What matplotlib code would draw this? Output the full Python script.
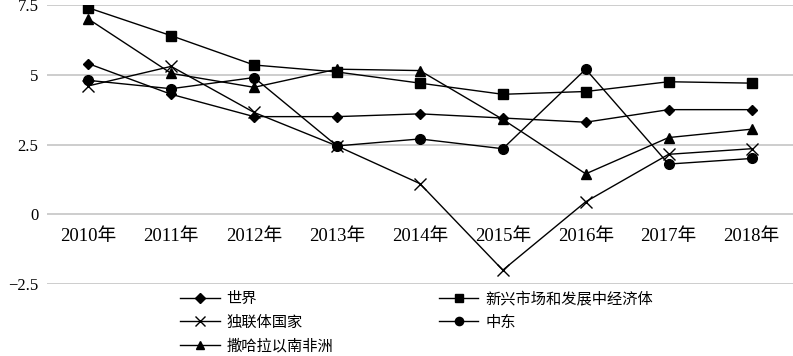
import matplotlib
matplotlib.use("Agg")
import matplotlib.pyplot as plt

plt.rcParams['font.family'] = ['Liberation Serif', 'Noto Sans CJK SC']
plt.rcParams['axes.unicode_minus'] = True

years = ["2010年", "2011年", "2012年", "2013年", "2014年", "2015年", "2016年", "2017年", "2018年"]

world = [5.4, 4.3, 3.5, 3.5, 3.6, 3.45, 3.3, 3.75, 3.75]
emerging = [7.4, 6.4, 5.35, 5.1, 4.7, 4.3, 4.4, 4.75, 4.7]
cis = [4.6, 5.3, 3.65, 2.45, 1.1, -2.0, 0.45, 2.15, 2.35]
middle_east = [4.8, 4.5, 4.9, 2.45, 2.7, 2.35, 5.2, 1.8, 2.0]
ssa = [7.0, 5.05, 4.55, 5.2, 5.15, 3.4, 1.45, 2.75, 3.05]

yticks = [-2.5, 0, 2.5, 5, 7.5]
ytick_labels = ["\u22122.5", "0", "2.5", "5", "7.5"]

fig = plt.figure(figsize=(7.93, 3.56), dpi=100)
ax = fig.add_axes([0.059, 0.202, 0.941, 0.784])

x = list(range(len(years)))
style = dict(color='black', linewidth=1.0)
h_world, = ax.plot(x, world, marker='D', markersize=5.5, label='世界', **style)
h_emer, = ax.plot(x, emerging, marker='s', markersize=7, label='新兴市场和发展中经济体', **style)
h_cis, = ax.plot(x, cis, marker='x', markersize=8, markeredgewidth=1.0, label='独联体国家', **style)
h_me, = ax.plot(x, middle_east, marker='o', markersize=7, label='中东', **style)
h_ssa, = ax.plot(x, ssa, marker='^', markersize=7, label='撒哈拉以南非洲', **style)

ax.set_xlim(-0.5, len(years) - 0.5)
ax.set_ylim(-2.5, 7.5)
ax.set_yticks(yticks)
ax.set_yticklabels(ytick_labels)
ax.set_xticks(x)
ax.set_xticklabels(years)
ax.grid(axis='y', color='#c0c0c0', linewidth=1.1)
ax.set_axisbelow(True)
for s in ['top', 'right', 'left']:
    ax.spines[s].set_visible(False)
ax.spines['bottom'].set_position(('data', 0))
ax.spines['bottom'].set_color('none')
ax.tick_params(axis='x', length=0, pad=10, labelsize=13.5)
ax.tick_params(axis='y', length=0, pad=6, labelsize=12)
for lab in ax.get_xticklabels() + ax.get_yticklabels():
    lab.set_clip_on(False)

# row-wise order: 世界 | 新兴, 独联体 | 中东, 撒哈拉
handles = [h_world, h_cis, h_ssa, h_emer, h_me]
ax.legend(handles, [h.get_label() for h in handles], ncol=2, frameon=False,
          loc='upper left', bbox_to_anchor=(180 / 793, 1 - 291 / 356),
          bbox_transform=fig.transFigure, fontsize=11, handlelength=2.6,
          handletextpad=0.45, columnspacing=6.9, labelspacing=0.62,
          markerscale=0.85, borderaxespad=0, borderpad=0)

fig.savefig("out.png", dpi=100)
